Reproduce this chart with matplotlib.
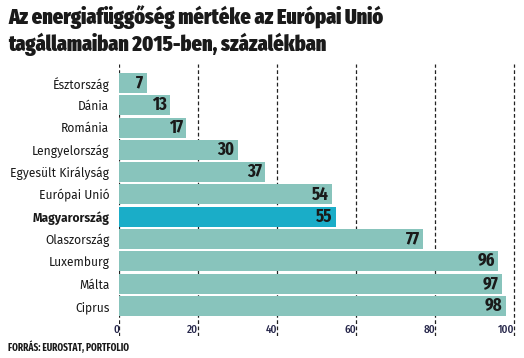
import matplotlib
matplotlib.use("Agg")
import matplotlib.pyplot as plt

# Data
countries = [
    "Észtország", "Dánia", "Románia", "Lengyelország", "Egyesült Királyság",
    "Európai Unió", "Magyarország", "Olaszország", "Luxemburg", "Málta", "Ciprus",
]
values = [7, 13, 17, 30, 37, 54, 55, 77, 96, 97, 98]
highlight = "Magyarország"
x_ticks = [0, 20, 40, 60, 80, 100]

title = "Az energiafüggőség mértéke az Európai Unió\ntagállamaiban 2015-ben, százalékban"
source = "FORRÁS: EUROSTAT, PORTFOLIO"

BAR_COLOR = "#88c4bc"
HL_COLOR = "#1aadc8"
TEXT_DARK = "#1a1a1a"

LABEL_FONT = ["Fira Sans", "DejaVu Sans"]
COND_FONT = ["Fira Sans Condensed", "DejaVu Sans"]
XCOND_FONT = ["Fira Sans Extra Condensed", "DejaVu Sans"]

W, H = 524, 358
fig = plt.figure(figsize=(W / 100, H / 100), dpi=100)
ax = fig.add_axes([119 / W, 1 - 336 / H, (516 - 119) / W, (336 - 64) / H])

ypos = list(range(len(countries)))
colors = [HL_COLOR if c == highlight else BAR_COLOR for c in countries]
bars = ax.barh(ypos, values, height=0.9, color=colors, zorder=2)

ax.set_xlim(0, 100.5)
ax.set_ylim(11.35, -0.85)

for b, v in zip(bars, values):
    ax.text(b.get_width() - 0.9, b.get_y() + b.get_height() / 2, str(v),
            ha="right", va="center", fontsize=13, fontweight="bold",
            family=XCOND_FONT, color=TEXT_DARK, zorder=3)

ax.set_yticks(ypos)
ax.set_yticklabels(countries, fontsize=8.7, family=LABEL_FONT, color=TEXT_DARK)
for lab in ax.get_yticklabels():
    if lab.get_text() == highlight:
        lab.set_fontweight("bold")
ax.tick_params(axis="y", length=0, pad=7)

ax.set_xticks(x_ticks)
ax.set_xticklabels([str(t) for t in x_ticks], fontsize=8, family=COND_FONT,
                   fontweight="medium", color="#26264a")
for lab in ax.get_xticklabels():
    lab.set_horizontalalignment("right")
ax.tick_params(axis="x", length=0, pad=-8.5)

ax.grid(axis="x", color="#222222", linestyle=(0, (3, 2)), linewidth=0.9, zorder=1)
ax.grid(axis="y", visible=False)
for s in ax.spines.values():
    s.set_visible(False)
ax.set_facecolor("none")

fig.text(8 / W, 1 - 5 / H, title, ha="left", va="top", fontsize=15.7,
         fontweight="black", family=XCOND_FONT, color=TEXT_DARK, linespacing=1.2)
fig.text(8 / W, 1 - 347 / H, source, ha="left", va="center", fontsize=7.3,
         fontweight="bold", family=XCOND_FONT, color=TEXT_DARK)

fig.savefig("out.png", dpi=100)
